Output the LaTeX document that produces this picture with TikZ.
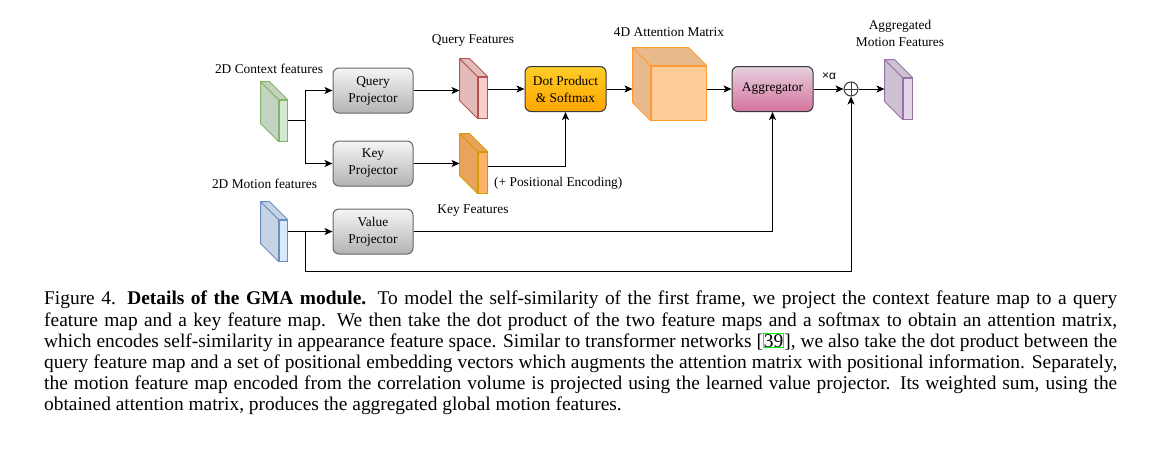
\documentclass[tikz,border=0pt]{standalone}
\usepackage{fontspec}
\setmainfont{Liberation Serif}
\newfontfamily\labelsans{Liberation Sans}
\usetikzlibrary{positioning,arrows.meta,calc}

\definecolor{projtop}{HTML}{F5F5F5}
\definecolor{projbot}{HTML}{B3B3B3}
\definecolor{projline}{HTML}{666666}
\definecolor{dottop}{HTML}{FFCD28}
\definecolor{dotbot}{HTML}{FFA500}
\definecolor{aggtop}{HTML}{E6D0DE}
\definecolor{aggbot}{HTML}{D5739D}
\definecolor{boxline}{HTML}{36393D}
\definecolor{ctxfill}{HTML}{D5E8D4}
\definecolor{ctxline}{HTML}{82B366}
\definecolor{motfill}{HTML}{DAE8FC}
\definecolor{motline}{HTML}{6C8EBF}
\definecolor{qfill}{HTML}{F8CECC}
\definecolor{qline}{HTML}{B85450}
\definecolor{kfill}{HTML}{FFB366}
\definecolor{kline}{HTML}{D79B00}
\definecolor{attfill}{HTML}{FFCC99}
\definecolor{attline}{HTML}{FF9933}
\definecolor{amffill}{HTML}{E1D5E7}
\definecolor{amfline}{HTML}{9673A6}
\definecolor{citebox}{HTML}{00FF00}

\newcommand{\labelfont}{\rmfamily\fontsize{13.4}{17}\selectfont}

% side and top faces of a feature map, behind the front node #1
\newcommand{\cubeback}[3]{%
  \draw[line width=1pt, draw=#3, fill=#2!91!black, line join=round]
    (#1.north west) -- ++(-18,-18) -- ($(#1.south west)+(-18,-18)$) -- (#1.south west) -- cycle;
  \draw[line width=1pt, draw=#3, fill=#2!91!black, line join=round]
    (#1.north west) -- ++(-18,-18) -- ($(#1.north east)+(-18,-18)$) -- (#1.north east) -- cycle;
  \coordinate (#1-back) at ($(#1.north west)+(-18,-18)$);
}

\tikzset{
  proj/.style={draw=projline, line width=1pt, rounded corners=6pt, top color=projtop, bottom color=projbot,
    minimum width=80pt, minimum height=45pt, align=center, font=\labelfont, inner sep=0pt},
  opbox/.style={draw=boxline, line width=1pt, rounded corners=6pt,
    minimum width=81pt, minimum height=45pt, align=center, font=\labelfont, inner sep=0pt},
  fmap/.style={line width=1pt, inner sep=0pt, minimum width=9pt, minimum height=41pt},
  link/.style={line width=1pt, -{Stealth[length=8pt,width=7pt,inset=2pt]}},
  wire/.style={line width=1pt},
  lbl/.style={font=\labelfont, inner sep=0pt, align=center}
}

\begin{document}
\begin{tikzpicture}[x=1pt,y=-1pt]
\useasboundingbox (0,0) rectangle (1173,456);

% feature maps
\node[fmap, minimum width=8pt, fill=ctxfill, draw=ctxline] (ctx) at (283,120.5) {};
\cubeback{ctx}{ctxfill}{ctxline}
\node[fmap, minimum width=8pt, fill=motfill, draw=motline] (mot) at (283,240.5) {};
\cubeback{mot}{motfill}{motline}
\node[fmap, fill=qfill, draw=qline] (qfeat) at (482.5,97.5) {};
\cubeback{qfeat}{qfill}{qline}
\node[fmap, fill=kfill, draw=kline] (kfeat) at (482.5,172.5) {};
\cubeback{kfeat}{kfill}{kline}
\node[fmap, minimum width=55pt, minimum height=54pt, fill=attfill, draw=attline] (att) at (678.5,93) {};
\cubeback{att}{attfill}{attline}
\node[fmap, fill=amffill, draw=amfline] (amf) at (907.5,98.5) {};
\cubeback{amf}{amffill}{amfline}

% boxes
\node[proj] (qproj) at (373,90.5) {Query\\Projector};
\node[proj] (kproj) at (373,163.5) {Key\\Projector};
\node[proj] (vproj) at (373,231.5) {Value\\Projector};
\node[opbox, top color=dottop, bottom color=dotbot] (dot) at (565.5,89) {Dot Product\\\& Softmax};
\node[opbox, top color=aggtop, bottom color=aggbot] (agg) at (772.5,89) {Aggregator};
\node[draw=boxline, line width=1pt, circle, minimum size=14pt, inner sep=0pt,
  path picture={\draw[line width=1pt, boxline] (path picture bounding box.north) -- (path picture bounding box.south)
    (path picture bounding box.west) -- (path picture bounding box.east);}] (plus) at (851,89) {};

% labels
\node[lbl] at (269,69) {2D Context features};
\node[lbl] at (264.5,184) {2D Motion features};
\node[lbl] at (473,41) {Query Features};
\node[lbl] at (473,211) {Key Features};
\node[lbl, anchor=west] at (494,183) {(+ Positional Encoding)};
\node[lbl] at (669,32) {4D Attention Matrix};
\node[lbl] at (900,33) {Aggregated\\Motion Features};
\node[lbl, font=\labelsans\fontsize{12}{14}\selectfont] at (829,76) {×α};

% connectors
\coordinate (split1) at (305,120);
\draw[wire] (ctx.east |- split1) -- (split1);
\draw[link] (split1) |- (qproj.west);
\draw[link] (split1) |- (kproj.west);
\draw[link] (qproj.east) -- (qproj.east -| qfeat-back);
\draw[link] (kproj.east) -- (kproj.east -| kfeat-back);
\draw[link] (qfeat.east |- dot.west) -- (dot.west);
\draw[link] ($(kfeat.east)+(0,-6.5)$) -| (dot.south);
\draw[link] (dot.east) -- (dot.east -| att-back);
\draw[link] (att.east |- agg.west) -- (agg.west);
\draw[link] (agg.east) -- (plus.west);
\draw[link] (plus.east) -- (plus.east -| amf-back);
\coordinate (split2) at (305,231.5);
\coordinate (low) at (305,271);
\draw[link] (mot.east |- vproj.west) -- (vproj.west);
\draw[link] (split2) -- (low) -| (plus.south);
\draw[link] (vproj.east) -| (agg.south);

% caption
\node[anchor=north west, inner sep=0pt, text width=1073pt, align=justify,
  font=\fontsize{19.4}{21.2}\selectfont] (caption) at (44,291)
  {Figure 4. \textbf{Details of the GMA module.} To model the self-similarity of the first frame, we project the context feature map to a query feature map and a key feature map. We then take the dot product of the two feature maps and a softmax to obtain an attention matrix, which encodes self-similarity in appearance feature space. Similar to transformer networks [{\fboxsep=0pt\fboxrule=1pt\fcolorbox{citebox}{white}{39}}], we also take the dot product between the query feature map and a set of positional embedding vectors which augments the attention matrix with positional information. Separately, the motion feature map encoded from the correlation volume is projected using the learned value projector. Its weighted sum, using the obtained attention matrix, produces the aggregated global motion features.};
\end{tikzpicture}
\end{document}
